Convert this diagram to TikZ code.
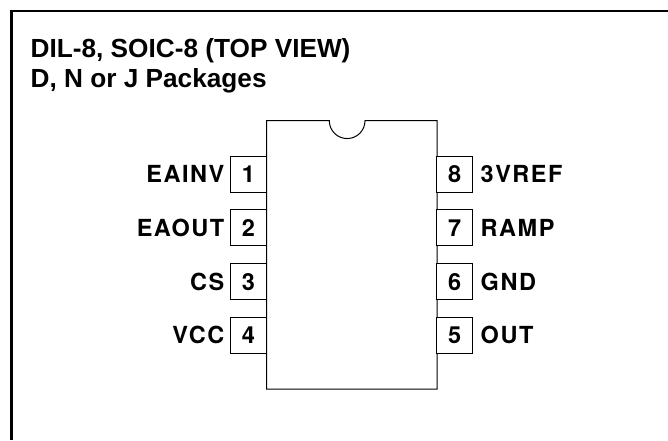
\documentclass[tikz,border=0pt]{standalone}
\usepackage{fontspec}
\setmainfont{Liberation Sans}
\newfontfamily\pinfont[LetterSpace=6.5,WordSpace=1]{TeX Gyre Heros}
\tikzset{
  pinbox/.style={draw=black,line width=1pt,fill=white,rectangle,minimum width=35.5pt,minimum height=35.7pt,inner sep=0pt,
    font=\pinfont\bfseries\fontsize{23.5}{23.5}\selectfont,text=black},
  pinlabel/.style={inner sep=0pt,font=\pinfont\bfseries\fontsize{23.5}{23.5}\selectfont,text=black},
  llabel/.style={pinlabel,anchor=east},
  rlabel/.style={pinlabel,anchor=west},
  title/.style={inner sep=0pt,anchor=base west,font=\bfseries\fontsize{26.2}{26.2}\selectfont,text=black},
  chipline/.style={draw=black,line width=1pt},
  frameline/.style={draw=black,line width=2.6pt}
}
\begin{document}
\begin{tikzpicture}[x=1pt,y=-1pt]
\useasboundingbox (0,0) rectangle (668,440);
\fill[white] (0,0) rectangle (668,440);
\draw[frameline] (11.2,440) -- (11.2,10.8) -- (668,10.8);
\node[title] (t1) at (30.5,57) {DIL-8, SOIC-8 (TOP VIEW)};
\node[title] (t2) at (30.5,87) {D, N or J Packages};
\draw[chipline] (266.5,120.7) -- (329.3,120.7) arc[start angle=180,end angle=0,radius=17.85] -- (437,120.7) -- (437,389) -- (266.5,389) -- cycle;
\foreach \n/\y/\lab in {1/174.2/EAINV,2/227.8/EAOUT,3/281.8/CS,4/335.2/VCC}{
  \node[pinbox] (p\n) at (248.5,\y) {\n};
  \node[llabel] (l\n) at (224.5,\y) {\lab};
}
\foreach \n/\y/\lab in {8/174.2/3VREF,7/227.8/RAMP,6/281.8/GND,5/335.2/OUT}{
  \node[pinbox] (p\n) at (454.7,\y) {\n};
  \node[rlabel] (l\n) at (480.5,\y) {\lab};
}
\end{tikzpicture}
\end{document}
